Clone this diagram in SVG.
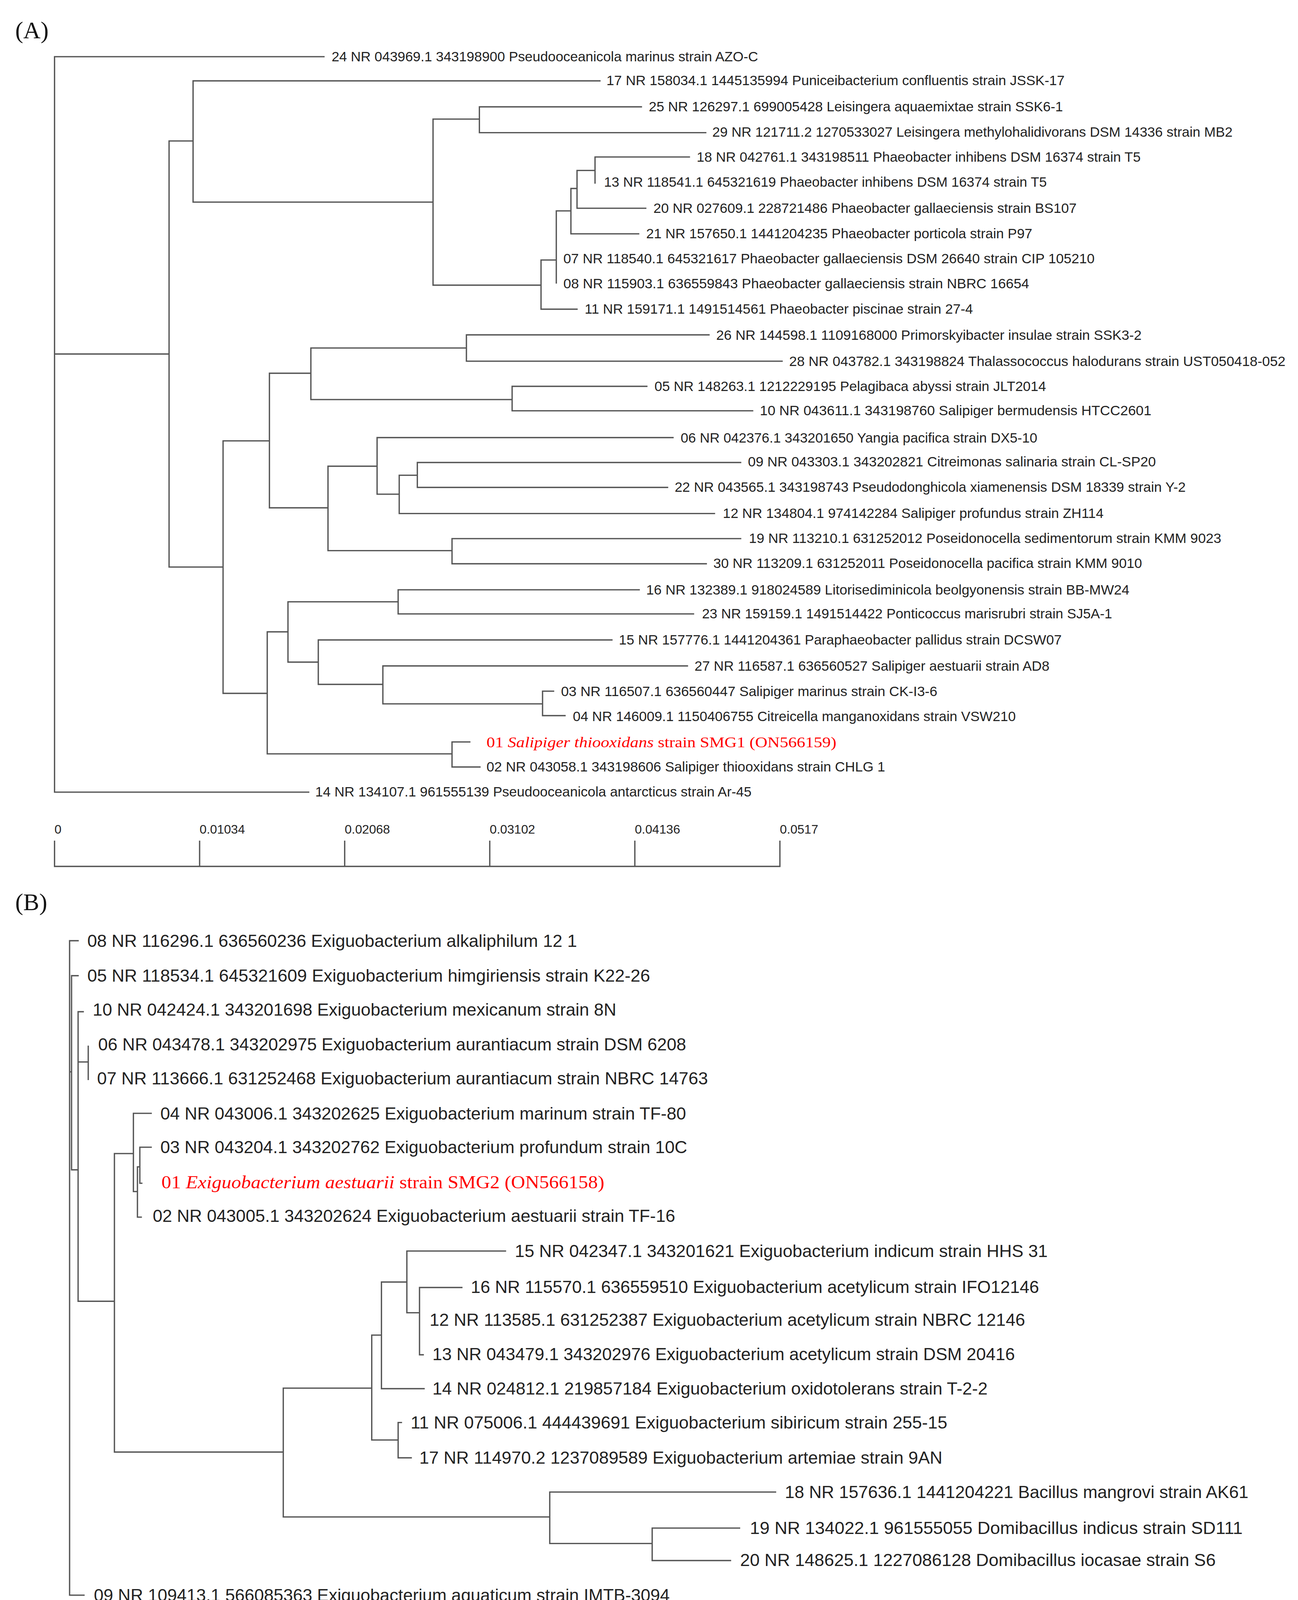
<svg xmlns="http://www.w3.org/2000/svg" width="3323" height="4389" viewBox="0 0 3323 4389">
<style>
.e{fill:none;stroke:#555;stroke-width:1.2;stroke-linecap:square}
.a{font-family:"Liberation Sans",Arial,sans-serif;font-size:12.5px;fill:#222}
.b{font-family:"Liberation Sans",Arial,sans-serif;font-size:16px;fill:#222}
.r{font-family:"Liberation Serif","Times New Roman",serif;fill:#f00}
.p{font-family:"Liberation Serif","Times New Roman",serif;font-size:22px;fill:#111}
.s{font-family:"Liberation Sans",Arial,sans-serif;font-size:11.5px;fill:#222}
.sb{font-family:"Liberation Sans",Arial,sans-serif;font-size:15px;fill:#222}
</style>
<rect width="3323" height="4389" fill="#fff"/>
<g transform="scale(2.7925,2.797)">
<text class="p" x="14" y="35">(A)</text>
<text class="p" x="14" y="833">(B)</text>
<g id="connectors">
<path class="e" d="M50 51.9V725M50 51.9H297M50 324H155M50 725H283
M155 129V519M155 129H177M155 519H204.5
M177 74V185M177 74H550M177 185H397
M397 109V261M397 109H439.5M397 261H496
M439.5 97.8V121.4M439.5 97.8H588M439.5 121.4H647
M496 238V283M496 238H510M496 283H529
M510 193V259M510 193H523.4
M523.4 172.5V214M523.4 172.5H529M523.4 214H585.5
M529 156V190.6M529 156H545.5M529 190.6H592
M545.5 143.7V167.5M545.5 143.7H632
M204.5 403.5V634.6M204.5 403.5H247M204.5 634.6H245
M247 341.6V464.8M247 341.6H285M247 464.8H300.7
M285 318.5V365.7M285 318.5H427.6M285 365.7H469.5
M427.6 306.5V330.6M427.6 306.5H650M427.6 330.6H717
M469.5 353.6V376M469.5 353.6H593M469.5 376H690
M300.7 426.7V504M300.7 426.7H345.7M300.7 504H414.4
M345.7 400.5V452.3M345.7 400.5H617M345.7 452.3H366
M366 435V470M366 435H382.6M366 470H655
M382.6 423.3V446.1M382.6 423.3H679M382.6 446.1H612
M414.4 493V516M414.4 493H679M414.4 516H647.5
M245 578.3V690M245 578.3H264M245 690H414.4
M264 550.8V606M264 550.8H365M264 606H291.8
M365 539.8V561.9M365 539.8H586M365 561.9H635.8
M291.8 585.7V626.4M291.8 585.7H561M291.8 626.4H351
M351 609.5V644.2M351 609.5H630.2M351 644.2H497.4
M497.4 632.6V655M497.4 632.6H507.5M497.4 655H518
M414.4 679.1V702M414.4 679.1H430.7M414.4 702H440"/>
<path class="e" d="M50 793H715M50 770V793M183 770V793M316 770V793M449 770V793M582 770V793M715 770V793"/>
<path class="e" d="M63.8 861V1460M63.8 861H71.6M63.8 1460H77M63.8 981H65.6
M65.6 893V1070.7M65.6 893H71.6M65.6 1070.7H71.6
M71.6 926V1191M71.6 926H76.3M71.6 972H80.9M71.6 1191H104.9
M80.9 957.6V988
M104.9 1055.8V1329M104.9 1055.8H122.3M104.9 1329H259.7
M122.3 1019V1090.6M122.3 1019H138.6M122.3 1090.6H126
M126 1068V1114M126 1068H128.2M126 1114H129.5
M128.2 1050V1083M128.2 1050H138.6M128.2 1083H130
M259.7 1270.5V1388.4M259.7 1270.5H340.8M259.7 1388.4H504
M340.8 1222V1318M340.8 1222H349.7M340.8 1318H365
M349.7 1173.4V1271M349.7 1173.4H373M349.7 1271H388.8
M373 1145V1201.5M373 1145H463.4M373 1201.5H384.6
M384.6 1178.4V1240M384.6 1178.4H423.4M384.6 1240H388
M365 1302V1334.3M365 1302H368M365 1334.3H377
M504 1365.6V1412.7M504 1365.6H711M504 1412.7H597.9
M597.9 1398.6V1428.3M597.9 1398.6H678M597.9 1428.3H669.7"/>
<path class="e" d="M63.8 1548.5H710.9M63.8 1524V1548.5M193.4 1524V1548.5M322.5 1524V1548.5M452.2 1524V1548.5M581.8 1524V1548.5M710.9 1524V1548.5"/>
</g>
<g id="scaleA">
<text class="s" x="50" y="763">0</text>
<text class="s" x="183" y="763">0.01034</text>
<text class="s" x="316" y="763">0.02068</text>
<text class="s" x="449" y="763">0.03102</text>
<text class="s" x="582" y="763">0.04136</text>
<text class="s" x="715" y="763">0.0517</text>
</g>
<g id="treeA">
<g id="a24"><text class="a" x="304" y="56" textLength="391" lengthAdjust="spacingAndGlyphs">24 NR 043969.1 343198900 Pseudooceanicola marinus strain AZO-C</text></g>
<g id="a17"><text class="a" x="556" y="78" textLength="420" lengthAdjust="spacingAndGlyphs">17 NR 158034.1 1445135994 Puniceibacterium confluentis strain JSSK-17</text></g>
<g id="a25"><text class="a" x="594.8" y="102" textLength="379.7" lengthAdjust="spacingAndGlyphs">25 NR 126297.1 699005428 Leisingera aquaemixtae strain SSK6-1</text></g>
<g id="a29"><text class="a" x="653" y="125" textLength="477" lengthAdjust="spacingAndGlyphs">29 NR 121711.2 1270533027 Leisingera methylohalidivorans DSM 14336 strain MB2</text></g>
<g id="a18"><text class="a" x="638.7" y="148" textLength="407" lengthAdjust="spacingAndGlyphs">18 NR 042761.1 343198511 Phaeobacter inhibens DSM 16374 strain T5</text></g>
<g id="a13"><text class="a" x="553.7" y="171" textLength="406" lengthAdjust="spacingAndGlyphs">13 NR 118541.1 645321619 Phaeobacter inhibens DSM 16374 strain T5</text></g>
<g id="a20"><text class="a" x="599" y="195" textLength="388" lengthAdjust="spacingAndGlyphs">20 NR 027609.1 228721486 Phaeobacter gallaeciensis strain BS107</text></g>
<g id="a21"><text class="a" x="592.4" y="218" textLength="354" lengthAdjust="spacingAndGlyphs">21 NR 157650.1 1441204235 Phaeobacter porticola strain P97</text></g>
<g id="a07"><text class="a" x="516.5" y="241" textLength="487" lengthAdjust="spacingAndGlyphs">07 NR 118540.1 645321617 Phaeobacter gallaeciensis DSM 26640 strain CIP 105210</text></g>
<g id="a08"><text class="a" x="516.5" y="264" textLength="427" lengthAdjust="spacingAndGlyphs">08 NR 115903.1 636559843 Phaeobacter gallaeciensis strain NBRC 16654</text></g>
<g id="a11"><text class="a" x="536" y="287" textLength="356" lengthAdjust="spacingAndGlyphs">11 NR 159171.1 1491514561 Phaeobacter piscinae strain 27-4</text></g>
<g id="a26"><text class="a" x="656.6" y="311" textLength="390" lengthAdjust="spacingAndGlyphs">26 NR 144598.1 1109168000 Primorskyibacter insulae strain SSK3-2</text></g>
<g id="a28"><text class="a" x="723.5" y="335" textLength="455" lengthAdjust="spacingAndGlyphs">28 NR 043782.1 343198824 Thalassococcus halodurans strain UST050418-052</text></g>
<g id="a05"><text class="a" x="600" y="358" textLength="359" lengthAdjust="spacingAndGlyphs">05 NR 148263.1 1212229195 Pelagibaca abyssi strain JLT2014</text></g>
<g id="a10"><text class="a" x="696.6" y="380" textLength="359" lengthAdjust="spacingAndGlyphs">10 NR 043611.1 343198760 Salipiger bermudensis HTCC2601</text></g>
<g id="a06"><text class="a" x="624" y="405" textLength="327" lengthAdjust="spacingAndGlyphs">06 NR 042376.1 343201650 Yangia pacifica strain DX5-10</text></g>
<g id="a09"><text class="a" x="685.7" y="427" textLength="374" lengthAdjust="spacingAndGlyphs">09 NR 043303.1 343202821 Citreimonas salinaria strain CL-SP20</text></g>
<g id="a22"><text class="a" x="618.5" y="450" textLength="468.5" lengthAdjust="spacingAndGlyphs">22 NR 043565.1 343198743 Pseudodonghicola xiamenensis DSM 18339 strain Y-2</text></g>
<g id="a12"><text class="a" x="662.7" y="474" textLength="349" lengthAdjust="spacingAndGlyphs">12 NR 134804.1 974142284 Salipiger profundus strain ZH114</text></g>
<g id="a19"><text class="a" x="686.6" y="497" textLength="433" lengthAdjust="spacingAndGlyphs">19 NR 113210.1 631252012 Poseidonocella sedimentorum strain KMM 9023</text></g>
<g id="a30"><text class="a" x="654" y="520" textLength="393" lengthAdjust="spacingAndGlyphs">30 NR 113209.1 631252011 Poseidonocella pacifica strain KMM 9010</text></g>
<g id="a16"><text class="a" x="592.4" y="544" textLength="443" lengthAdjust="spacingAndGlyphs">16 NR 132389.1 918024589 Litorisediminicola beolgyonensis strain BB-MW24</text></g>
<g id="a23"><text class="a" x="643.6" y="566" textLength="376" lengthAdjust="spacingAndGlyphs">23 NR 159159.1 1491514422 Ponticoccus marisrubri strain SJ5A-1</text></g>
<g id="a15"><text class="a" x="567.3" y="590" textLength="406" lengthAdjust="spacingAndGlyphs">15 NR 157776.1 1441204361 Paraphaeobacter pallidus strain DCSW07</text></g>
<g id="a27"><text class="a" x="636.7" y="614" textLength="325.4" lengthAdjust="spacingAndGlyphs">27 NR 116587.1 636560527 Salipiger aestuarii strain AD8</text></g>
<g id="a03"><text class="a" x="514.3" y="637" textLength="345" lengthAdjust="spacingAndGlyphs">03 NR 116507.1 636560447 Salipiger marinus strain CK-I3-6</text></g>
<g id="a04"><text class="a" x="525.2" y="660" textLength="406" lengthAdjust="spacingAndGlyphs">04 NR 146009.1 1150406755 Citreicella manganoxidans strain VSW210</text></g>
<g id="a01"><text class="r" x="446" y="684" font-size="13.5" textLength="320.8" lengthAdjust="spacingAndGlyphs">01 <tspan font-style="italic">Salipiger thiooxidans</tspan> strain SMG1 (ON566159)</text></g>
<g id="a02"><text class="a" x="446" y="706" textLength="365.5" lengthAdjust="spacingAndGlyphs">02 NR 043058.1 343198606 Salipiger thiooxidans strain CHLG 1</text></g>
<g id="a14"><text class="a" x="289" y="729" textLength="400" lengthAdjust="spacingAndGlyphs">14 NR 134107.1 961555139 Pseudooceanicola antarcticus strain Ar-45</text></g>
</g>
<g id="scaleB">
<text class="sb" x="63" y="1510">0</text>
<text class="sb" x="193" y="1510">0.022412</text>
<text class="sb" x="322" y="1510">0.044824</text>
<text class="sb" x="452" y="1510">0.067236</text>
<text class="sb" x="581" y="1510">0.089648</text>
<text class="sb" x="710" y="1510">0.11206</text>
</g>
<g id="treeB">
<g id="b08"><text class="b" x="80" y="866.5" textLength="449" lengthAdjust="spacingAndGlyphs">08 NR 116296.1 636560236 Exiguobacterium alkaliphilum 12 1</text></g>
<g id="b05"><text class="b" x="80" y="898.5" textLength="516" lengthAdjust="spacingAndGlyphs">05 NR 118534.1 645321609 Exiguobacterium himgiriensis strain K22-26</text></g>
<g id="b10"><text class="b" x="85" y="929.5" textLength="480" lengthAdjust="spacingAndGlyphs">10 NR 042424.1 343201698 Exiguobacterium mexicanum strain 8N</text></g>
<g id="b06"><text class="b" x="90" y="961.5" textLength="539" lengthAdjust="spacingAndGlyphs">06 NR 043478.1 343202975 Exiguobacterium aurantiacum strain DSM 6208</text></g>
<g id="b07"><text class="b" x="89" y="992.5" textLength="560" lengthAdjust="spacingAndGlyphs">07 NR 113666.1 631252468 Exiguobacterium aurantiacum strain NBRC 14763</text></g>
<g id="b04"><text class="b" x="147" y="1024.5" textLength="482" lengthAdjust="spacingAndGlyphs">04 NR 043006.1 343202625 Exiguobacterium marinum strain TF-80</text></g>
<g id="b03"><text class="b" x="147" y="1055.5" textLength="483" lengthAdjust="spacingAndGlyphs">03 NR 043204.1 343202762 Exiguobacterium profundum strain 10C</text></g>
<g id="b01"><text class="r" x="148" y="1087.5" font-size="16.5" textLength="406" lengthAdjust="spacingAndGlyphs">01 <tspan font-style="italic">Exiguobacterium aestuarii</tspan> strain SMG2 (ON566158)</text></g>
<g id="b02"><text class="b" x="140" y="1118.5" textLength="479" lengthAdjust="spacingAndGlyphs">02 NR 043005.1 343202624 Exiguobacterium aestuarii strain TF-16</text></g>
<g id="b15"><text class="b" x="472" y="1150.5" textLength="488.5" lengthAdjust="spacingAndGlyphs">15 NR 042347.1 343201621 Exiguobacterium indicum strain HHS 31</text></g>
<g id="b16"><text class="b" x="431.6" y="1183.5" textLength="521" lengthAdjust="spacingAndGlyphs">16 NR 115570.1 636559510 Exiguobacterium acetylicum strain IFO12146</text></g>
<g id="b12"><text class="b" x="393.8" y="1213.5" textLength="546" lengthAdjust="spacingAndGlyphs">12 NR 113585.1 631252387 Exiguobacterium acetylicum strain NBRC 12146</text></g>
<g id="b13"><text class="b" x="396.4" y="1245" textLength="534" lengthAdjust="spacingAndGlyphs">13 NR 043479.1 343202976 Exiguobacterium acetylicum strain DSM 20416</text></g>
<g id="b14"><text class="b" x="396.4" y="1276.5" textLength="509" lengthAdjust="spacingAndGlyphs">14 NR 024812.1 219857184 Exiguobacterium oxidotolerans strain T-2-2</text></g>
<g id="b11"><text class="b" x="376.5" y="1307.5" textLength="492" lengthAdjust="spacingAndGlyphs">11 NR 075006.1 444439691 Exiguobacterium sibiricum strain 255-15</text></g>
<g id="b17"><text class="b" x="384.4" y="1339.5" textLength="479.6" lengthAdjust="spacingAndGlyphs">17 NR 114970.2 1237089589 Exiguobacterium artemiae strain 9AN</text></g>
<g id="b18"><text class="b" x="719.5" y="1371" textLength="425" lengthAdjust="spacingAndGlyphs">18 NR 157636.1 1441204221 Bacillus mangrovi strain AK61</text></g>
<g id="b19"><text class="b" x="687.5" y="1404" textLength="451.7" lengthAdjust="spacingAndGlyphs">19 NR 134022.1 961555055 Domibacillus indicus strain SD111</text></g>
<g id="b20"><text class="b" x="678.5" y="1433.5" textLength="436" lengthAdjust="spacingAndGlyphs">20 NR 148625.1 1227086128 Domibacillus iocasae strain S6</text></g>
<g id="b09"><text class="b" x="86" y="1465.5" textLength="528" lengthAdjust="spacingAndGlyphs">09 NR 109413.1 566085363 Exiguobacterium aquaticum strain IMTB-3094</text></g>
</g>
</g>
</svg>
